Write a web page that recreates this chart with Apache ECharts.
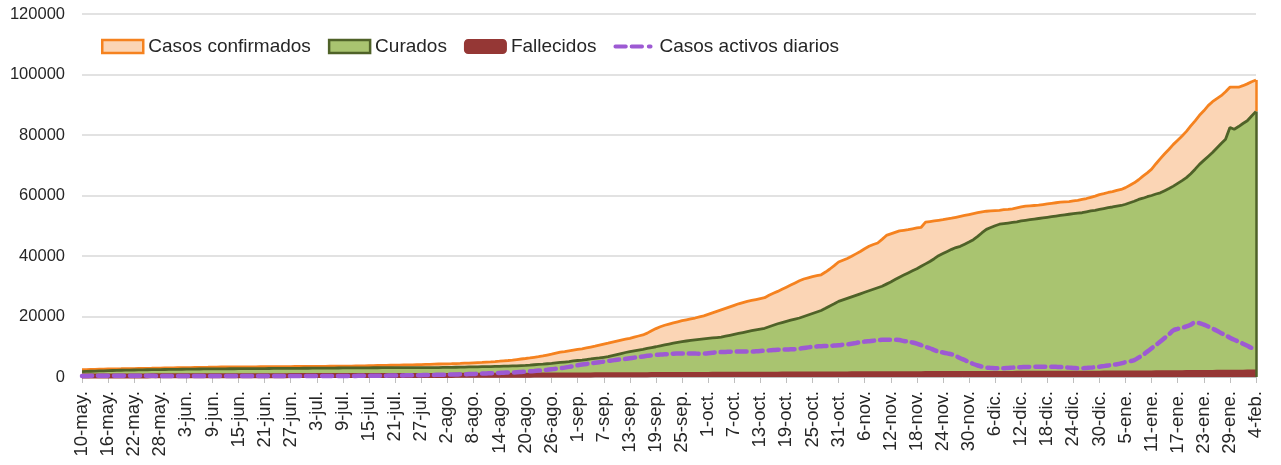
<!DOCTYPE html>
<html>
<head>
<meta charset="utf-8">
<script src="https://cdn.jsdelivr.net/npm/echarts@6/dist/echarts.min.js"></script>
<style>
html,body{margin:0;padding:0;background:#fff;}
#chart{width:1281px;height:465px;}
</style>
</head>
<body>
<div id="chart"></div>
<script>
// Month labels (Spanish abbreviations) and day counts used for the daily category axis
const monthNames = ['may.','jun.','jul.','ago.','sep.','oct.','nov.','dic.','ene.','feb.'];
const monthDays  = [31,30,31,31,30,31,30,31,31,28];
const startDay = 10;
const nDays = 271;

const seriesNames = ['Casos confirmados','Curados','Fallecidos','Casos activos diarios'];

const confirmados = [
2400,2450,2500,2520,2560,2600,2650,2680,2700,2720,
2750,2780,2800,2830,2860,2880,2900,2930,2960,2980,
3000,3020,3050,3080,3100,3120,3150,3170,3200,3220,
3250,3270,3300,3310,3320,3330,3340,3350,3360,3370,
3380,3390,3400,3410,3420,3430,3440,3450,3460,3470,
3480,3490,3500,3510,3520,3530,3540,3560,3580,3590,
3600,3610,3620,3650,3680,3710,3740,3770,3800,3830,
3860,3890,3920,3950,3980,4000,4040,4080,4120,4160,
4200,4250,4300,4330,4360,4400,4450,4500,4560,4620,
4690,4760,4830,4920,5010,5110,5220,5340,5460,5600,
5780,5950,6120,6300,6500,6700,6950,7250,7550,7880,
8200,8420,8650,8880,9100,9300,9600,9900,10200,10550,
10900,11200,11550,11880,12200,12500,12800,13200,13550,13900,
14500,15300,16000,16600,17100,17500,17900,18250,18600,18900,
19200,19500,19850,20200,20700,21200,21700,22200,22700,23200,
23700,24200,24600,25000,25300,25600,25900,26200,27000,27700,
28300,29000,29700,30400,31100,31800,32400,32800,33200,33500,
33800,34700,35700,36800,38000,38600,39200,39900,40700,41500,
42400,43200,43800,44300,45500,46800,47300,47800,48300,48500,
48700,49000,49300,49500,51200,51400,51600,51800,52000,52300,
52500,52800,53100,53400,53700,54000,54300,54600,54800,54900,
55000,55100,55300,55400,55600,55900,56200,56500,56600,56700,
56800,57000,57200,57400,57600,57800,57900,58000,58200,58400,
58700,59000,59400,59800,60300,60600,61000,61300,61700,62000,
62600,63400,64200,65200,66400,67500,68700,70500,72200,73800,
75300,76900,78300,79700,81200,83000,84700,86500,88000,89700,
91000,92000,93000,94300,95800,95800,95800,96300,96900,97600,
98200
];

const curados = [
1800,1850,1900,1950,2000,2050,2100,2150,2200,2230,
2260,2290,2320,2350,2380,2400,2420,2440,2460,2480,
2500,2520,2540,2560,2580,2600,2620,2640,2660,2680,
2690,2700,2700,2710,2720,2730,2740,2750,2760,2770,
2780,2790,2800,2810,2820,2830,2840,2850,2860,2870,
2880,2890,2900,2910,2920,2930,2940,2950,2960,2980,
2990,3000,3000,3010,3020,3030,3040,3050,3060,3070,
3070,3080,3080,3090,3090,3100,3100,3100,3110,3110,
3120,3120,3130,3150,3170,3200,3230,3260,3290,3320,
3350,3370,3400,3430,3460,3500,3540,3580,3620,3660,
3700,3780,3860,3950,4050,4150,4250,4380,4500,4650,
4800,4950,5100,5300,5450,5600,5780,5960,6150,6330,
6520,6700,7050,7400,7750,8100,8400,8650,8900,9150,
9450,9750,10000,10300,10600,10900,11200,11450,11700,11900,
12100,12300,12450,12600,12750,12900,13050,13200,13500,13800,
14100,14400,14700,15000,15300,15600,15850,16100,16600,17100,
17600,18000,18400,18800,19150,19500,20000,20500,21000,21500,
22000,22700,23500,24200,25000,25500,26000,26500,27000,27500,
28000,28500,29000,29500,30000,30700,31400,32200,33000,33700,
34400,35100,35800,36600,37400,38200,39100,40100,40800,41500,
42200,42800,43200,43900,44600,45400,46500,47700,48800,49400,
50000,50500,50700,50900,51100,51300,51600,51800,52000,52200,
52400,52600,52800,53000,53200,53400,53600,53800,54000,54200,
54300,54600,54900,55100,55400,55700,56000,56200,56500,56700,
57100,57600,58100,58700,59100,59600,60000,60500,60900,61600,
62300,63100,64000,64900,65900,67200,68700,70300,71600,72900,
74200,75700,77200,78600,82500,81900,82800,83800,84700,86300,
87800
];

const fallecidos = [
300,305,310,315,320,325,330,335,340,345,
350,354,358,362,366,370,374,378,382,386,
390,393,396,399,402,405,408,411,414,417,
420,422,424,426,428,430,432,434,436,438,
440,442,444,446,448,450,452,454,456,458,
460,462,464,466,468,470,472,474,476,478,
480,482,484,486,488,490,492,494,496,498,
500,502,504,506,508,510,512,514,516,518,
520,523,526,529,532,535,538,541,544,547,
550,555,560,565,570,575,580,585,590,595,
600,606,612,618,624,630,636,642,648,654,
660,666,672,678,684,690,696,702,708,714,
720,726,732,738,744,750,756,762,768,774,
780,786,792,798,804,810,816,822,828,834,
840,846,852,858,864,870,876,882,888,894,
900,905,910,915,920,925,930,935,940,945,
950,955,960,965,970,975,980,985,990,995,
1000,1005,1010,1015,1020,1025,1030,1035,1040,1045,
1050,1055,1060,1065,1070,1075,1080,1085,1090,1095,
1100,1104,1108,1112,1116,1120,1124,1128,1132,1136,
1140,1144,1148,1152,1156,1160,1164,1168,1172,1176,
1180,1184,1188,1192,1196,1200,1204,1208,1212,1216,
1220,1224,1228,1232,1236,1240,1244,1248,1252,1256,
1260,1265,1270,1275,1280,1285,1290,1295,1300,1305,
1310,1318,1326,1334,1342,1350,1360,1370,1380,1390,
1400,1412,1424,1436,1448,1460,1472,1484,1496,1508,
1520,1532,1544,1556,1568,1580,1592,1604,1616,1628,
1640
];

const activos = [
350,360,380,390,400,410,420,420,420,410,
400,400,390,390,380,380,380,370,370,370,
360,360,360,350,350,350,350,340,340,340,
340,340,340,340,330,330,330,330,330,330,
330,330,330,330,330,330,330,330,330,330,
330,330,330,330,330,330,330,340,350,350,
350,360,360,370,380,390,400,410,420,430,
450,470,490,510,530,550,570,590,610,640,
670,700,730,760,790,820,850,880,920,960,
1000,1060,1120,1180,1240,1300,1360,1420,1470,1500,
1550,1650,1760,1880,2000,2130,2260,2400,2550,2700,
2900,3100,3350,3600,3900,4100,4300,4500,4700,4900,
5100,5300,5500,5700,5850,6000,6200,6400,6600,6800,
7000,7150,7300,7400,7500,7600,7700,7750,7800,7800,
7800,7750,7700,7750,7850,8000,8200,8250,8300,8350,
8400,8400,8400,8400,8400,8500,8600,8700,8800,8900,
9000,9050,9100,9150,9200,9400,9600,9800,10000,10100,
10200,10250,10300,10400,10500,10650,10800,11000,11250,11500,
11700,11850,12000,12150,12300,12350,12350,12300,12200,11900,
11700,11400,11000,10500,10000,9500,8900,8400,8100,7800,
7500,6900,6200,5600,4900,4300,3800,3400,3100,3000,
2900,2900,2900,3000,3100,3200,3250,3300,3350,3400,
3400,3400,3400,3400,3350,3300,3200,3100,3000,2900,
2900,3000,3100,3250,3400,3600,3800,4000,4200,4500,
4900,5200,5600,6400,7300,8400,9500,10600,11700,12900,
14100,15400,15900,16300,16700,17300,18000,17800,17300,16700,
16000,15300,14500,13800,13000,12300,11700,11000,10300,9600,
9000
];

const yTicks = {min: 0, max: 120000, interval: 20000};

// build the daily date labels
const categories = [];
(function(){
  let m = 0, d = startDay;
  while (categories.length < nDays) {
    categories.push(d + '-' + monthNames[m]);
    d++;
    if (d > monthDays[m]) { d = 1; m++; }
  }
})();

[confirmados, curados, fallecidos, activos].forEach(function(a, i){
  if (a.length !== nDays) throw new Error('series ' + i + ' length ' + a.length);
});

const last = nDays - 1;
const C_LINE = '#F5821F', C_FILL = '#FBD5B5';
const R_LINE = '#4F6228', R_FILL = '#A9C470';
const D_COL = '#953735';
const A_COL = '#9D5AD3';
const FONT = 'Liberation Sans';
// dashed legend glyph (bounding box 42 x 13)
const DASH_ICON = 'path://M0,0h0.01v0.01h-0.01z M42,13h0.01v0.01h-0.01z M1,4.5h11a2,2 0 0 1 0,4h-11a2,2 0 0 1 0,-4z M18,4.5h11a2,2 0 0 1 0,4h-11a2,2 0 0 1 0,-4z M36,4.5h2a2,2 0 0 1 0,4h-2a2,2 0 0 1 0,-4z';

const chart = echarts.init(document.getElementById('chart'), null, {renderer: 'canvas'});
chart.setOption({
  animation: false,
  backgroundColor: '#ffffff',
  textStyle: {fontFamily: FONT},
  grid: {left: 82, right: 25, top: 14, bottom: 88, containLabel: false},
  legend: {
    orient: 'horizontal',
    left: 96, top: 32,
    itemWidth: 41, itemHeight: 13, itemGap: 17,
    textStyle: {fontFamily: FONT, fontSize: 19, color: '#262626'},
    data: [
      {name: seriesNames[0], icon: 'rect', itemStyle: {color: C_FILL, borderColor: C_LINE, borderWidth: 2.5}},
      {name: seriesNames[1], icon: 'rect', itemStyle: {color: R_FILL, borderColor: R_LINE, borderWidth: 2.5}},
      {name: seriesNames[2], icon: 'roundRect', itemStyle: {color: D_COL, borderColor: D_COL, borderWidth: 2}},
      {name: seriesNames[3], icon: DASH_ICON, itemStyle: {color: A_COL, borderWidth: 0}}
    ]
  },
  xAxis: {
    type: 'category',
    data: categories,
    boundaryGap: false,
    axisLine: {lineStyle: {color: '#BFBFBF', width: 1}},
    axisTick: {interval: 5, length: 6, lineStyle: {color: '#BFBFBF'}},
    axisLabel: {interval: 5, rotate: 90, fontFamily: FONT, fontSize: 18.5, color: '#262626', margin: 14}
  },
  yAxis: {
    type: 'value',
    min: yTicks.min, max: yTicks.max, interval: yTicks.interval,
    axisLine: {show: false},
    axisTick: {show: false},
    splitLine: {lineStyle: {color: '#D9D9D9', width: 1.5}},
    axisLabel: {fontFamily: FONT, fontSize: 16.5, color: '#262626', margin: 17,
      formatter: function(v){ return String(v); }}
  },
  series: [
    {
      name: seriesNames[0], type: 'line', data: confirmados,
      symbol: 'none', z: 2,
      lineStyle: {color: C_LINE, width: 2.8},
      itemStyle: {color: C_LINE},
      areaStyle: {color: C_FILL, opacity: 1},
      markLine: {
        silent: true, symbol: 'none', label: {show: false},
        lineStyle: {color: C_LINE, width: 2.5, type: 'solid'},
        data: [[{coord: [categories[last], curados[last]]}, {coord: [categories[last], confirmados[last]]}]]
      }
    },
    {
      name: seriesNames[1], type: 'line', data: curados,
      symbol: 'none', z: 3,
      lineStyle: {color: R_LINE, width: 2.8},
      itemStyle: {color: R_LINE},
      areaStyle: {color: R_FILL, opacity: 1},
      markLine: {
        silent: true, symbol: 'none', label: {show: false},
        lineStyle: {color: R_LINE, width: 2.5, type: 'solid'},
        data: [[{coord: [categories[last], 0]}, {coord: [categories[last], curados[last]]}]]
      }
    },
    {
      name: seriesNames[2], type: 'line', data: fallecidos,
      symbol: 'none', z: 4, clip: false,
      lineStyle: {color: D_COL, width: 5},
      itemStyle: {color: D_COL},
      areaStyle: {color: D_COL, opacity: 1}
    },
    {
      name: seriesNames[3], type: 'line', data: activos,
      symbol: 'none', z: 5, smooth: 0.4,
      lineStyle: {color: A_COL, width: 4.5, type: [10, 6], cap: 'round'},
      itemStyle: {color: A_COL}
    }
  ]
});
</script>
</body>
</html>
